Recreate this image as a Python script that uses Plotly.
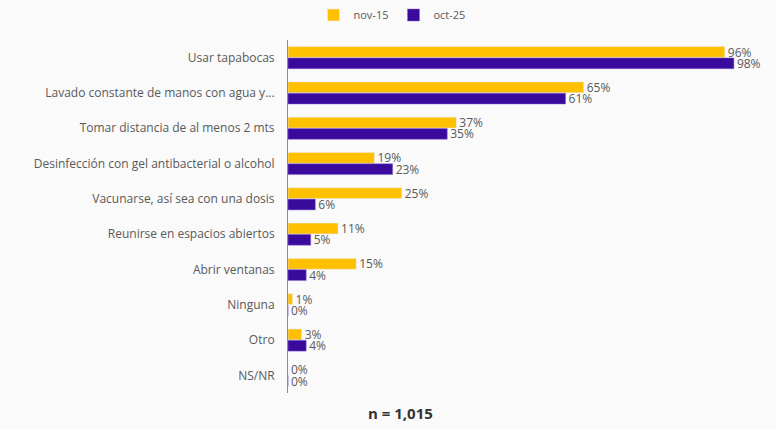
import plotly.graph_objects as go

categories = [
    "Usar tapabocas",
    "Lavado constante de manos con agua y...",
    "Tomar distancia de al menos 2 mts",
    "Desinfección con gel antibacterial o alcohol",
    "Vacunarse, así sea con una dosis",
    "Reunirse en espacios abiertos",
    "Abrir ventanas",
    "Ninguna",
    "Otro",
    "NS/NR",
]
nov_15 = [96, 65, 37, 19, 25, 11, 15, 1, 3, 0]
oct_25 = [98, 61, 35, 23, 6, 5, 4, 0, 4, 0]

font_family = "Open Sans, Lato, sans-serif"
text_grey = "#595959"

fig = go.Figure()
fig.add_trace(go.Bar(
    y=categories, x=nov_15, name="nov-15", orientation="h",
    marker=dict(color="#FFC000"),
    text=[f"{v}%" for v in nov_15], textposition="outside",
    constraintext="none",
    textfont=dict(size=12, color=text_grey, family=font_family),
    cliponaxis=False,
))
fig.add_trace(go.Bar(
    y=categories, x=oct_25, name="oct-25", orientation="h",
    marker=dict(color="#3A0A9C", line=dict(color="#8A6FD0", width=0.5)),
    text=[f"{v}%" for v in oct_25], textposition="outside",
    constraintext="none",
    textfont=dict(size=12, color=text_grey, family=font_family),
    cliponaxis=False,
))

plot_w = 776 - 288 - 33
plot_h = 429 - 40 - 36

fig.update_layout(
    width=776, height=429,
    barmode="group", bargap=0.36, bargroupgap=0.04,
    paper_bgcolor="#fafafa", plot_bgcolor="#fafafa",
    margin=dict(l=288, r=33, t=40, b=36, autoexpand=False),
    font=dict(family=font_family, size=12, color=text_grey),
    legend=dict(
        orientation="h", x=(392 - 288) / plot_w, xanchor="center",
        yref="container", y=1 - 15 / 429, yanchor="middle",
        font=dict(size=11, color=text_grey),
        itemwidth=30, traceorder="normal",
    ),
    annotations=[dict(
        text="<b>n = 1,015</b>",
        x=(400 - 288) / plot_w, xref="paper", xanchor="center",
        y=-(413 - 393) / plot_h, yref="paper", yanchor="middle",
        showarrow=False,
        font=dict(size=15, color="#333333", family=font_family),
    )],
)

fig.update_xaxes(range=[0, 100], visible=False)
fig.update_yaxes(
    autorange="reversed", showline=True, linecolor="#8c8c8c", linewidth=1,
    ticks="", ticklabelstandoff=10, tickfont=dict(size=12, color=text_grey),
)

fig.write_html(
    "out.html",
    config={"displayModeBar": False},
    post_script="document.body.style.margin='0';",
)
